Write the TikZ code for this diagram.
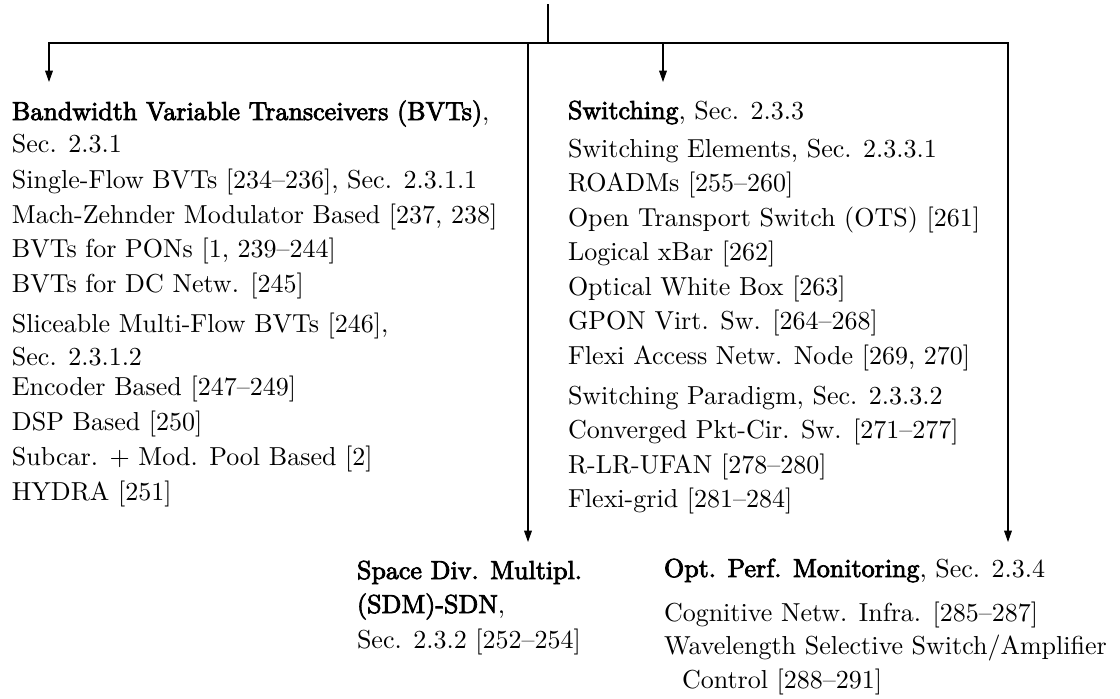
\documentclass[tikz,border=0pt]{standalone}
\usepackage{fontspec}
\newfontfamily\fb{Latin Modern Roman}[FakeBold=3]
\usetikzlibrary{arrows.meta}
\begin{document}
\begin{tikzpicture}[x=0.384615pt,y=-0.384615pt,
  txt/.style={anchor=base west,inner sep=0pt,outer sep=0pt,font=\fontsize{10}{12}\selectfont},
  conn/.style={line width=0.4pt,draw=black},
  arr/.style={conn,-{Triangle[length=4.4pt,width=3pt]}}]
\useasboundingbox (0,0) rectangle (1120,698);
% left column
\node[txt] (bvt1) at (12,120) {{\fb Bandwidth Variable Transceivers (BVTs)},};
\node[txt] (bvt2) at (12,152) {Sec. 2.3.1};
\node[txt] (sf)   at (12,188) {Single-Flow BVTs [234–236], Sec. 2.3.1.1};
\node[txt] (mz)   at (12,223) {Mach-Zehnder Modulator Based [237, 238]};
\node[txt] (pon)  at (12,257.5) {BVTs for PONs [1, 239–244]};
\node[txt] (dc)   at (12,292) {BVTs for DC Netw. [245]};
\node[txt] (sl1)  at (12,332) {Sliceable Multi-Flow BVTs [246],};
\node[txt] (sl2)  at (12,365) {Sec. 2.3.1.2};
\node[txt] (enc)  at (12,395) {Encoder Based [247–249]};
\node[txt] (dsp)  at (12,430) {DSP Based [250]};
\node[txt] (sub)  at (12,465) {Subcar. + Mod. Pool Based [2]};
\node[txt] (hyd)  at (12,500) {HYDRA [251]};
% right column
\node[txt] (sw)    at (568,119) {{\fb Switching}, Sec. 2.3.3};
\node[txt] (se)    at (568,157) {Switching Elements, Sec. 2.3.3.1};
\node[txt] (roadm) at (568,191.5) {ROADMs [255–260]};
\node[txt] (ots)   at (568,226) {Open Transport Switch (OTS) [261]};
\node[txt] (xbar)  at (568,260.5) {Logical xBar [262]};
\node[txt] (owb)   at (568,295) {Optical White Box [263]};
\node[txt] (gpon)  at (568,329.5) {GPON Virt. Sw. [264–268]};
\node[txt] (fan)   at (568,364) {Flexi Access Netw. Node [269, 270]};
\node[txt] (sp)    at (568,404) {Switching Paradigm, Sec. 2.3.3.2};
\node[txt] (cpc)   at (568,438.5) {Converged Pkt-Cir. Sw. [271–277]};
\node[txt] (rlr)   at (568,473) {R-LR-UFAN [278–280]};
\node[txt] (fg)    at (568,507.5) {Flexi-grid [281–284]};
% bottom
\node[txt] (sdm1) at (357,579) {\fb Space Div. Multipl.};
\node[txt] (sdm2) at (357,613) {{\fb (SDM)-SDN},};
\node[txt] (sdm3) at (357,648) {Sec. 2.3.2 [252–254]};
\node[txt] (opm)  at (664,577) {{\fb Opt. Perf. Monitoring}, Sec. 2.3.4};
\node[txt] (cog)  at (664,621) {Cognitive Netw. Infra. [285–287]};
\node[txt] (wss)  at (664,654) {Wavelength Selective Switch/Amplifier};
\node[txt] (ctl)  at (682,688) {Control [288–291]};
% connectors
\coordinate (root) at (548,4);
\coordinate (j) at (548,43);
\coordinate (bvtin) at (49,82);
\coordinate (swin) at (663,82);
\coordinate (sdmin) at (528,542);
\coordinate (opmin) at (1008,542);
\draw[conn] (root) -- (j);
\draw[arr] (j) -| (bvtin);
\draw[arr] (j) -| (swin);
\draw[arr] (j) -| (sdmin);
\draw[arr] (j) -| (opmin);
\end{tikzpicture}
\end{document}
